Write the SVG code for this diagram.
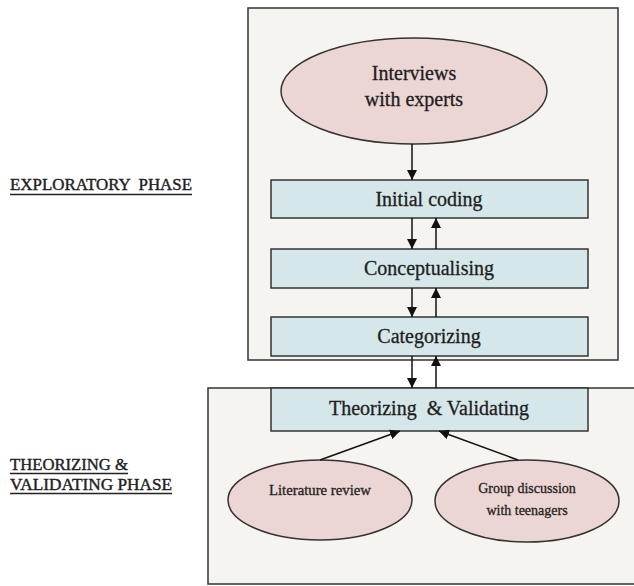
<svg xmlns="http://www.w3.org/2000/svg" width="634" height="586" viewBox="0 0 634 586">
<style>
.panel{fill:#f5f4f0;stroke:#333;stroke-width:1.5}
.oval{fill:#ecd6d4;stroke:#333;stroke-width:1.5}
.step{fill:#d5e7e9;stroke:#333;stroke-width:1.5}
.t{font-family:"Liberation Serif","Times New Roman",serif;fill:#1e1e1e;stroke:#1e1e1e;stroke-width:0.3;text-anchor:middle}
.lbl{font-family:"Liberation Serif","Times New Roman",serif;fill:#1e1e1e;stroke:#1e1e1e;stroke-width:0.4;font-size:16.5px}
.ul{stroke:#222;stroke-width:1.4}
.conn{stroke:#111;stroke-width:1.5;fill:none;marker-end:url(#ah)}
</style>
<defs>
<marker id="ah" markerUnits="userSpaceOnUse" markerWidth="10" markerHeight="10" viewBox="0 0 10 10" refX="10" refY="5" orient="auto">
<path d="M0,0 L10,5 L0,10 z" fill="#111"/>
</marker>
</defs>
<rect width="634" height="586" fill="#ffffff"/>
<g id="phase-exploratory">
<rect class="panel" x="248" y="8" width="370" height="352"/>
</g>
<g id="phase-theorizing">
<path class="panel" d="M636,388 H208 V584 H636"/>
</g>
<g id="label-exploratory">
<text class="lbl" x="10" y="190" textLength="182" lengthAdjust="spacingAndGlyphs" xml:space="preserve">EXPLORATORY  PHASE</text>
<line class="ul" x1="10" y1="194.5" x2="192" y2="194.5"/>
</g>
<g id="label-theorizing">
<text class="lbl" x="10" y="470" textLength="118" lengthAdjust="spacingAndGlyphs">THEORIZING &amp;</text>
<line class="ul" x1="10" y1="473.5" x2="128" y2="473.5"/>
<text class="lbl" x="10" y="490" textLength="162" lengthAdjust="spacingAndGlyphs">VALIDATING PHASE</text>
<line class="ul" x1="10" y1="493.5" x2="172" y2="493.5"/>
</g>
<g id="interviews">
<ellipse class="oval" cx="414" cy="91" rx="133" ry="53"/>
<text class="t" x="414" y="80" font-size="20">Interviews</text>
<text class="t" x="414" y="106" font-size="20">with experts</text>
</g>
<g id="initial-coding">
<rect class="step" x="271" y="180" width="317" height="38"/>
<text class="t" x="429" y="206" font-size="20">Initial coding</text>
</g>
<g id="conceptualising">
<rect class="step" x="271" y="249" width="317" height="39"/>
<text class="t" x="429" y="275" font-size="20">Conceptualising</text>
</g>
<g id="categorizing">
<rect class="step" x="271" y="317" width="317" height="39"/>
<text class="t" x="429" y="343" font-size="20">Categorizing</text>
</g>
<g id="theorizing-validating">
<rect class="step" x="271" y="388" width="317" height="43"/>
<text class="t" x="429" y="415" font-size="20" xml:space="preserve">Theorizing  &amp; Validating</text>
</g>
<g id="literature-review">
<ellipse class="oval" cx="320" cy="500" rx="92" ry="40"/>
<text class="t" x="320" y="495" font-size="14" textLength="102" lengthAdjust="spacingAndGlyphs">Literature review</text>
</g>
<g id="group-discussion">
<ellipse class="oval" cx="527" cy="501" rx="92" ry="41"/>
<text class="t" x="527" y="493" font-size="14">Group discussion</text>
<text class="t" x="527" y="515" font-size="14">with teenagers</text>
</g>
<g id="connectors">
<line class="conn" x1="412" y1="144" x2="412" y2="180"/>
<line class="conn" x1="412" y1="218" x2="412" y2="249"/>
<line class="conn" x1="436" y1="249" x2="436" y2="218"/>
<line class="conn" x1="412" y1="288" x2="412" y2="317"/>
<line class="conn" x1="436" y1="317" x2="436" y2="288"/>
<line class="conn" x1="412" y1="356" x2="412" y2="388"/>
<line class="conn" x1="436" y1="388" x2="436" y2="356"/>
<line class="conn" x1="320" y1="460" x2="400" y2="431"/>
<line class="conn" x1="518" y1="460" x2="439" y2="431"/>
</g>
</svg>
